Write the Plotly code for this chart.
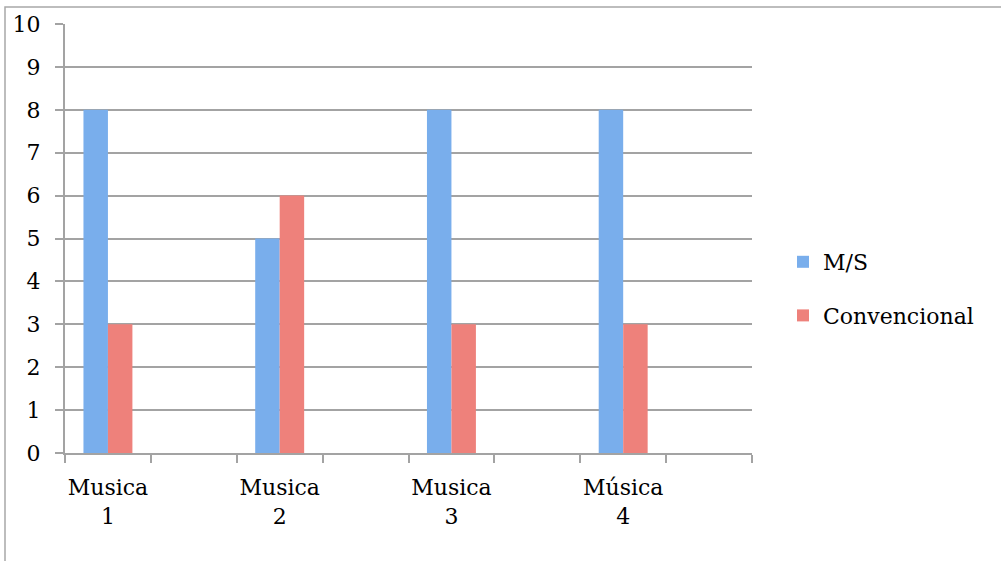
import plotly.graph_objects as go

categories = ["Musica<br>1", " ", "Musica<br>2", "  ", "Musica<br>3", "   ", "Música<br>4", "    "]
ms_values = [8, None, 5, None, 8, None, 8, None]
conv_values = [3, None, 6, None, 3, None, 3, None]
series_names = ["M/S", "Convencional"]
y_ticks = list(range(0, 11))

W, H = 1001, 561
ml, mr, mt, mb = 65, 249, 24, 108
pw, ph = W - ml - mr, H - mt - mb

font = "DejaVu Serif"
grid = "#A3A3A3"

fig = go.Figure()
fig.add_trace(go.Bar(x=categories, y=ms_values, name=series_names[0],
                     marker=dict(color="#79AEEC", line=dict(width=0)),
                     legendgroup="a"))
fig.add_trace(go.Bar(x=categories, y=conv_values, name=series_names[1],
                     marker=dict(color="#EE817B", line=dict(width=0)),
                     legendgroup="b"))

fig.update_layout(
    width=W, height=H,
    margin=dict(l=ml, r=mr, t=mt, b=mb),
    paper_bgcolor="white", plot_bgcolor="white",
    barmode="group", bargap=0.43, bargroupgap=0,
    font=dict(family=font, size=22, color="black"),
    legend=dict(x=(783 - ml) / pw, y=(H - mb - 241) / ph, xanchor="left", yanchor="top",
                font=dict(size=22), tracegroupgap=22, itemwidth=30,
                bgcolor="rgba(0,0,0,0)"),
    showlegend=True,
    xaxis=dict(type="category", categoryorder="array", categoryarray=categories,
               tickson="boundaries", ticks="outside", ticklen=8, tickcolor=grid,
               tickwidth=2, showline=True, linecolor=grid, linewidth=2,
               showgrid=False, ticklabelstandoff=14, tickangle=0),
    yaxis=dict(range=[0, 10], tickvals=y_ticks, ticks="outside", ticklen=8,
               tickcolor=grid, tickwidth=2, showline=True, linecolor=grid,
               linewidth=2, showgrid=True, gridcolor=grid, gridwidth=2,
               zeroline=False, ticklabelstandoff=10),
)

fig.add_shape(type="rect", xref="paper", yref="paper",
              x0=(5 - ml) / pw, x1=2, y0=-2, y1=(H - mb - 7) / ph,
              line=dict(color="#A8A8A8", width=1.5), fillcolor="rgba(0,0,0,0)",
              layer="below")

fig.write_html("out.html")
